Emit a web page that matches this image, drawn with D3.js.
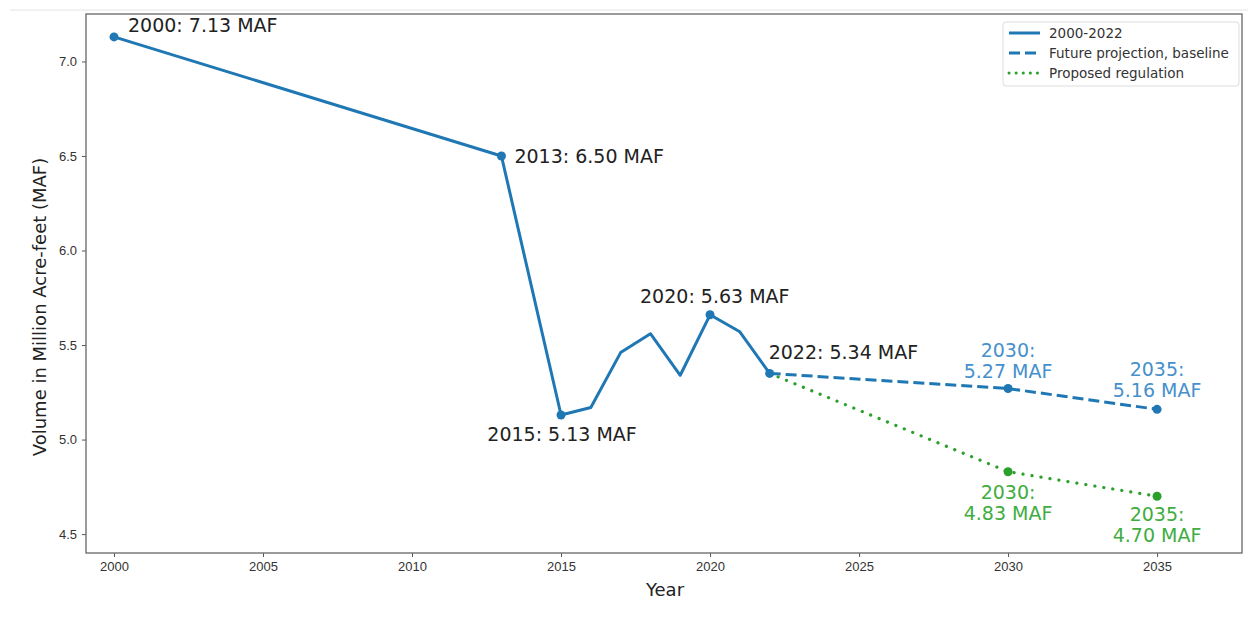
<!DOCTYPE html>
<html>
<head>
<meta charset="utf-8">
<script src="https://cdn.jsdelivr.net/npm/d3@7"></script>
<style>
  body { margin: 0; background: #fff; }
  svg { font-family: "DejaVu Sans", sans-serif; }
</style>
</head>
<body>
<div class="chart"></div>
<script>
// historical series
var histYears = [2000, 2013, 2015, 2016, 2017, 2018, 2019, 2020, 2021, 2022];
var histValues = [7.13, 6.50, 5.13, 5.17, 5.46, 5.56, 5.34, 5.66, 5.57, 5.35];
var histMarked = [2000, 2013, 2015, 2020, 2022];

// projections
var projYears = [2022, 2030, 2035];
var baseValues = [5.35, 5.27, 5.16];
var regValues = [5.35, 4.83, 4.70];

var xTicks = [2000, 2005, 2010, 2015, 2020, 2025, 2030, 2035];
var yTicks = [4.5, 5.0, 5.5, 6.0, 6.5, 7.0];

var blue = "#1f77b4", green = "#2ca02c";
var blueText = "#4690cc", greenText = "#40ad40";

var svgWidth = 1248, svgHeight = 620;
var margin = {top: 14, right: 6, bottom: 67, left: 86};
var width = svgWidth - margin.left - margin.right;
var height = svgHeight - margin.top - margin.bottom;

var svg = d3.select(".chart").append("svg")
    .attr("width", svgWidth)
    .attr("height", svgHeight);

// faint line at the top of the picture
svg.append("line")
    .attr("x1", 10).attr("x2", svgWidth).attr("y1", 10).attr("y2", 10)
    .attr("stroke", "#e4e4e4").attr("stroke-width", 1);

var chartGroup = svg.append("g")
    .attr("transform", `translate(${margin.left}, ${margin.top})`);

var x = d3.scaleLinear().domain([1999.06, 2037.85]).range([0, width]);
var y = d3.scaleLinear().domain([4.40, 7.251]).range([height, 0]);

var bottomAxis = d3.axisBottom(x).tickValues(xTicks).tickFormat(d3.format("d")).tickSize(4).tickPadding(5);
var leftAxis = d3.axisLeft(y).tickValues(yTicks).tickFormat(d3.format(".1f")).tickSize(4).tickPadding(5);

var xAxis = chartGroup.append("g")
    .attr("transform", `translate(0, ${height})`)
    .call(bottomAxis);
var yAxis = chartGroup.append("g").call(leftAxis);

[xAxis, yAxis].forEach(function(a) {
    a.select(".domain").remove();
    a.selectAll("line").attr("stroke", "#555");
    a.selectAll("text").attr("fill", "#333").style("font-size", "13px");
});

// axes frame
chartGroup.append("rect")
    .attr("width", width).attr("height", height)
    .attr("fill", "none").attr("stroke", "#666").attr("stroke-width", 1.3);

var line = d3.line().x(d => x(d[0])).y(d => y(d[1]));
var hist = d3.zip(histYears, histValues);
var base = d3.zip(projYears, baseValues);
var reg = d3.zip(projYears, regValues);

chartGroup.append("path").datum(hist)
    .attr("d", line).attr("fill", "none")
    .attr("stroke", blue).attr("stroke-width", 3).attr("stroke-linejoin", "round");

chartGroup.append("path").datum(base)
    .attr("d", line).attr("fill", "none")
    .attr("stroke", blue).attr("stroke-width", 3).attr("stroke-dasharray", "11,5");

chartGroup.append("path").datum(reg)
    .attr("d", line).attr("fill", "none")
    .attr("stroke", green).attr("stroke-width", 3.2)
    .attr("stroke-linecap", "round").attr("stroke-dasharray", "0.1,9");

// markers
chartGroup.selectAll(".hdot")
    .data(hist.filter(d => histMarked.includes(d[0])))
    .enter().append("circle")
    .attr("cx", d => x(d[0])).attr("cy", d => y(d[1])).attr("r", 4.5).attr("fill", blue);
chartGroup.selectAll(".bdot")
    .data(base.slice(1)).enter().append("circle")
    .attr("cx", d => x(d[0])).attr("cy", d => y(d[1])).attr("r", 4.5).attr("fill", blue);
chartGroup.selectAll(".gdot")
    .data(reg.slice(1)).enter().append("circle")
    .attr("cx", d => x(d[0])).attr("cy", d => y(d[1])).attr("r", 4.5).attr("fill", green);

// annotations for historical points
var histLabels = [
    {year: 2000, text: "2000: 7.13 MAF", dx: 14, dy: -5, anchor: "start"},
    {year: 2013, text: "2013: 6.50 MAF", dx: 13, dy: 7, anchor: "start"},
    {year: 2015, text: "2015: 5.13 MAF", dx: 1, dy: 26, anchor: "middle"},
    {year: 2020, text: "2020: 5.63 MAF", dx: -70, dy: -12, anchor: "start"},
    {year: 2022, text: "2022: 5.34 MAF", dx: -1, dy: -14, anchor: "start"}
];
chartGroup.selectAll(".hlab")
    .data(histLabels).enter().append("text")
    .attr("x", d => x(d.year) + d.dx)
    .attr("y", d => y(histValues[histYears.indexOf(d.year)]) + d.dy)
    .attr("text-anchor", d => d.anchor)
    .attr("fill", "#222").style("font-size", "19px")
    .text(d => d.text);

function twoLine(data, color, offs) {
    data.forEach(function(d, i) {
        var t = chartGroup.append("text")
            .attr("text-anchor", "middle")
            .attr("fill", color).style("font-size", "19px");
        var cx = x(d[0]), cy = y(d[1]) + offs[i];
        t.append("tspan").attr("x", cx).attr("y", cy).text(d[0] + ":");
        t.append("tspan").attr("x", cx).attr("y", cy + 21).text(d[1].toFixed(2) + " MAF");
    });
}
twoLine(base.slice(1), blueText, [-32, -33]);
twoLine(reg.slice(1), greenText, [27, 25]);

// axis titles
chartGroup.append("text")
    .attr("x", width / 2 + 1).attr("y", height + 43)
    .attr("text-anchor", "middle").attr("fill", "#222").style("font-size", "18px")
    .text("Year");
chartGroup.append("text")
    .attr("transform", "rotate(-90)")
    .attr("x", -293).attr("y", -40)
    .attr("text-anchor", "middle").attr("fill", "#222").style("font-size", "18px")
    .text("Volume in Million Acre-feet (MAF)");

// legend
var legendItems = [
    {label: "2000-2022", color: blue, dash: null},
    {label: "Future projection, baseline", color: blue, dash: "11,5"},
    {label: "Proposed regulation", color: green, dash: "0.1,7"}
];
var legend = svg.append("g").attr("transform", "translate(1003, 22)");
legend.append("rect")
    .attr("width", 236).attr("height", 64).attr("rx", 3)
    .attr("fill", "#fff").attr("stroke", "#ddd");
legendItems.forEach(function(d, i) {
    var ly = 11 + i * 20;
    legend.append("line")
        .attr("x1", 6).attr("x2", 37).attr("y1", ly).attr("y2", ly)
        .attr("stroke", d.color).attr("stroke-width", 3)
        .attr("stroke-linecap", d.dash && d.dash.startsWith("0.1") ? "round" : "butt")
        .attr("stroke-dasharray", d.dash);
    legend.append("text")
        .attr("x", 46).attr("y", ly + 5)
        .attr("fill", "#333").style("font-size", "13.5px")
        .text(d.label);
});
</script>
</body>
</html>
